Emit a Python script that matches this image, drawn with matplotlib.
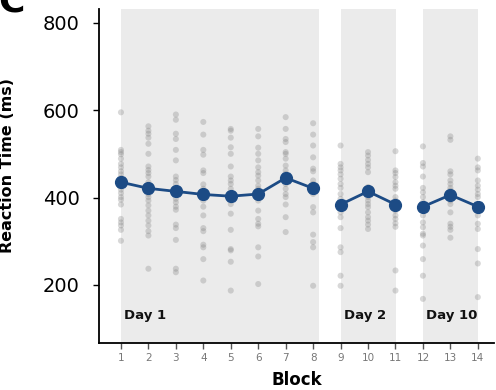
import matplotlib
matplotlib.use("Agg")
import matplotlib.pyplot as plt
from matplotlib.patches import Rectangle

plt.rcParams['font.family'] = ['DejaVu Sans']

blocks = list(range(1, 15))

# individual participant reaction times per block (ms)
participant_rt = {
    1: [595, 509, 504, 499, 489, 477, 469, 460, 453, 445, 438, 430, 425, 418, 410, 401, 395, 384, 351, 343, 336, 326, 301],
    2: [563, 553, 546, 537, 523, 500, 471, 463, 456, 448, 435, 427, 408, 401, 393, 382, 370, 359, 347, 336, 323, 313, 237],
    3: [590, 578, 546, 534, 509, 485, 448, 440, 431, 422, 397, 389, 379, 372, 338, 330, 303, 237, 229],
    4: [573, 544, 509, 498, 462, 456, 430, 420, 393, 379, 359, 330, 323, 292, 286, 259, 210],
    5: [557, 553, 537, 515, 500, 471, 448, 439, 431, 420, 393, 385, 363, 326, 282, 279, 253, 187],
    6: [557, 540, 514, 500, 485, 469, 458, 450, 439, 427, 420, 393, 370, 351, 340, 334, 286, 265, 202],
    7: [584, 557, 534, 527, 504, 500, 489, 473, 462, 454, 431, 420, 408, 401, 384, 355, 321],
    8: [570, 544, 519, 492, 466, 460, 439, 431, 408, 378, 366, 315, 298, 286, 198],
    9: [519, 477, 469, 462, 453, 443, 431, 422, 408, 397, 366, 355, 330, 286, 275, 221, 198],
    10: [504, 496, 486, 477, 469, 458, 424, 408, 401, 393, 385, 378, 366, 355, 347, 338, 328],
    11: [506, 462, 456, 447, 435, 427, 420, 401, 393, 370, 359, 351, 341, 333, 233, 187],
    12: [517, 479, 471, 448, 422, 412, 401, 389, 359, 343, 332, 317, 313, 290, 259, 221, 168],
    13: [540, 532, 460, 453, 439, 431, 422, 416, 393, 385, 366, 340, 333, 326, 308],
    14: [489, 469, 462, 439, 427, 418, 408, 401, 385, 370, 359, 340, 328, 282, 249, 172],
}

mean_rt = [435, 421, 414, 407, 403, 408, 445, 421, 384, 414, 384, 379, 406, 379]
sem_rt = [11, 11, 11, 10, 10, 10, 11, 11, 10, 10, 10, 10, 10, 10]

day_labels = ["Day 1", "Day 2", "Day 10"]
day_spans = [(1.0, 8.23), (9.0, 11.03), (12.0, 14.0)]

fig = plt.figure(figsize=(4.96, 3.90), dpi=100)
ax = fig.add_axes([0.1996, 0.1205, 0.797, 0.857])

ylo, yhi = 67, 832
ax.set_xlim(0.2, 14.6)
ax.set_ylim(ylo, yhi)

for (x0, x1) in day_spans:
    ax.add_patch(Rectangle((x0, ylo), x1 - x0, yhi - ylo,
                           facecolor='#ebebeb', edgecolor='none', zorder=0))

for b in blocks:
    vals = participant_rt[b]
    ax.scatter([b] * len(vals), vals, s=19, color='#808080', alpha=0.3,
               edgecolors='none', zorder=2)

ax.errorbar(blocks, mean_rt, yerr=sem_rt, fmt='none', ecolor='#6f93c4',
            elinewidth=1.0, capsize=3, capthick=1.0, zorder=3)

segments = [(0, 8), (8, 11), (11, 14)]
for s0, s1 in segments:
    ax.plot(blocks[s0:s1], mean_rt[s0:s1], color='#1c4b85', lw=2.0,
            marker='o', markersize=8.5, zorder=4)

for (x0, x1), lab in zip(day_spans, day_labels):
    ax.text(x0 + 0.12, 131, lab, fontsize=9.5, fontweight='bold',
            ha='left', va='center', color='#111111', zorder=5)

ax.set_yticks([200, 400, 600, 800])
ax.set_xticks(blocks)
ax.tick_params(axis='y', labelsize=14, length=4, width=1, colors='black', pad=10)
ax.tick_params(axis='x', labelsize=7.5, length=4, width=1, colors='#555555',
               labelcolor='#777777', pad=3)

for sp in ['top', 'right']:
    ax.spines[sp].set_visible(False)
for sp in ['left', 'bottom']:
    ax.spines[sp].set_linewidth(1.3)
    ax.spines[sp].set_color('black')

ax.set_xlabel('Block', fontsize=12, fontweight='bold', labelpad=6)
ax.set_ylabel('Reaction Time (ms)', fontsize=11.5, fontweight='bold')
ax.yaxis.set_label_coords(15 / 496, 1 - 165 / 390, transform=fig.transFigure)

fig.text(-0.004, 1 - 11 / 390, 'C', fontsize=26, fontweight='bold',
         ha='left', va='baseline')

fig.savefig('out.png', dpi=100)
